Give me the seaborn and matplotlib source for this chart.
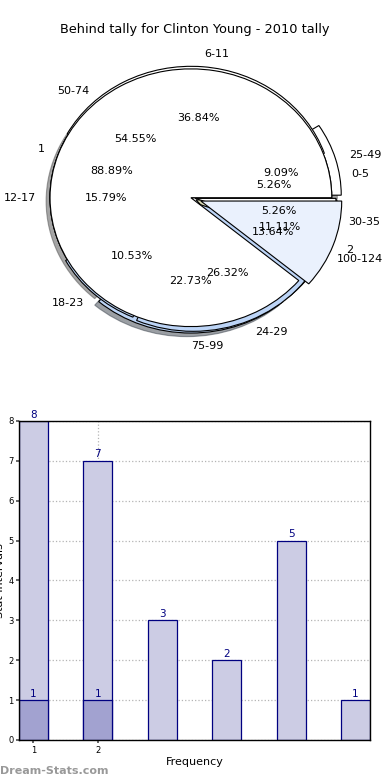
import pandas as pd
import seaborn as sns
import matplotlib.pyplot as plt

# ==========================================
# DATA
# ==========================================

TITLE = "Behind tally for Clinton Young - 2010 tally"

# three overlaid pies
TALLY_LABELS = ["25-49", "50-74", "75-99", "100-124"]
TALLY_VALUES = [2, 12, 5, 3]

AGE_LABELS = ["0-5", "6-11", "12-17", "18-23", "24-29", "30-35"]
AGE_VALUES = [1, 7, 3, 2, 5, 1]

FREQ_LABELS = ["1", "2"]
FREQ_VALUES = [8, 1]

# bar chart
BAR_VALUES = [8, 7, 3, 2, 5, 1]
BAR_SMALL_VALUES = [1, 1]
XTICK_LABELS = ["1", "2"]

# ==========================================

sns.set_theme(style="white")
plt.rcParams["font.family"] = ["DejaVu Sans"]
plt.rcParams["text.color"] = "black"
plt.rcParams["axes.labelcolor"] = "black"
plt.rcParams["xtick.color"] = "black"
plt.rcParams["ytick.color"] = "black"

fig = plt.figure(figsize=(3.9, 7.8), dpi=100)

# ---------- pie ----------
ax_pie = fig.add_axes([0.038, 0.540, 0.903, 0.413])

wedge_kw = dict(edgecolor="black", linewidth=0.8)
text_kw = dict(fontsize=8, color="black")

ax_pie.pie(TALLY_VALUES, labels=TALLY_LABELS, autopct="%.2f%%",
           colors=["white", "white", "#bcd4f6", "#dcdcb8"],
           explode=[0.07, 0, 0.05, 0.04],
           pctdistance=0.6, labeldistance=1.1,
           shadow=True, wedgeprops=wedge_kw, textprops=text_kw)
_, age_texts, _ = ax_pie.pie(
    AGE_VALUES, labels=AGE_LABELS, autopct="%.2f%%",
    colors=["white", "white", "white", "#bcd4f6", "#bcd4f6", "white"],
    explode=[0, 0.02, 0, 0.015, 0.04, 0.03],
    pctdistance=0.6, labeldistance=1.1,
    wedgeprops=wedge_kw, textprops=text_kw)
# nudge the "0-5" label out a little, as in the original
lx, ly = age_texts[0].get_position()
age_texts[0].set_position((lx + 0.05, ly))

ax_pie.pie(FREQ_VALUES, labels=FREQ_LABELS, autopct="%.2f%%",
           colors=["white", "#eaf1fd"],
           explode=[0, 0.075],
           pctdistance=0.6, labeldistance=1.1,
           wedgeprops=wedge_kw, textprops=text_kw)
ax_pie.set_aspect("auto")
ax_pie.set_xlim(-1.25, 1.25)
ax_pie.set_ylim(-1.25, 1.25)
ax_pie.axis("off")

fig.text(0.5, 1 - 30 / 780, TITLE, ha="center", va="center", fontsize=9.3)

# ---------- bars ----------
ax = fig.add_axes([0.0487, 0.0513, 0.9, 0.409])

bar_df = pd.DataFrame({"pos": range(len(BAR_VALUES)), "count": BAR_VALUES})
small_df = pd.DataFrame({"pos": range(len(BAR_SMALL_VALUES)), "count": BAR_SMALL_VALUES})

sns.barplot(data=bar_df, x="pos", y="count", native_scale=True, width=0.45,
            color="#ccccE4", saturation=1, edgecolor="#000080", linewidth=0.9, ax=ax)
sns.barplot(data=small_df, x="pos", y="count", native_scale=True, width=0.45,
            color="#a2a2d0", saturation=1, edgecolor="#000080", linewidth=0.9, ax=ax)

for cont in ax.containers:
    ax.bar_label(cont, color="#000080", fontsize=7.5, padding=1)

ax.set_xlim(-0.225, 5.225)
ax.set_ylim(0, 8)
ax.set_xticks([0, 1])
ax.set_xticklabels(XTICK_LABELS)
ax.set_yticks(range(0, 9))
ax.tick_params(axis="both", labelsize=6, length=2, pad=2, direction="out",
               bottom=True, left=True, color="#555555")
ax.grid(True, linestyle=":", color="#b4b4b4", linewidth=0.9)
for line in ax.get_xgridlines() + ax.get_ygridlines():
    line.set_zorder(3)
for sp in ax.spines.values():
    sp.set_color("black")
    sp.set_linewidth(1.0)

ax.set_xlabel("Frequency", fontsize=8, labelpad=2)
ax.set_ylabel("Stat Intervals", fontsize=8)
ax.yaxis.set_label_coords(-0.04, 0.5)

fig.text(0.0, 1 - 771 / 780, "Dream-Stats.com", ha="left", va="center",
         fontsize=8, color="#999999", fontweight="bold")

plt.savefig("out.png", dpi=100)
